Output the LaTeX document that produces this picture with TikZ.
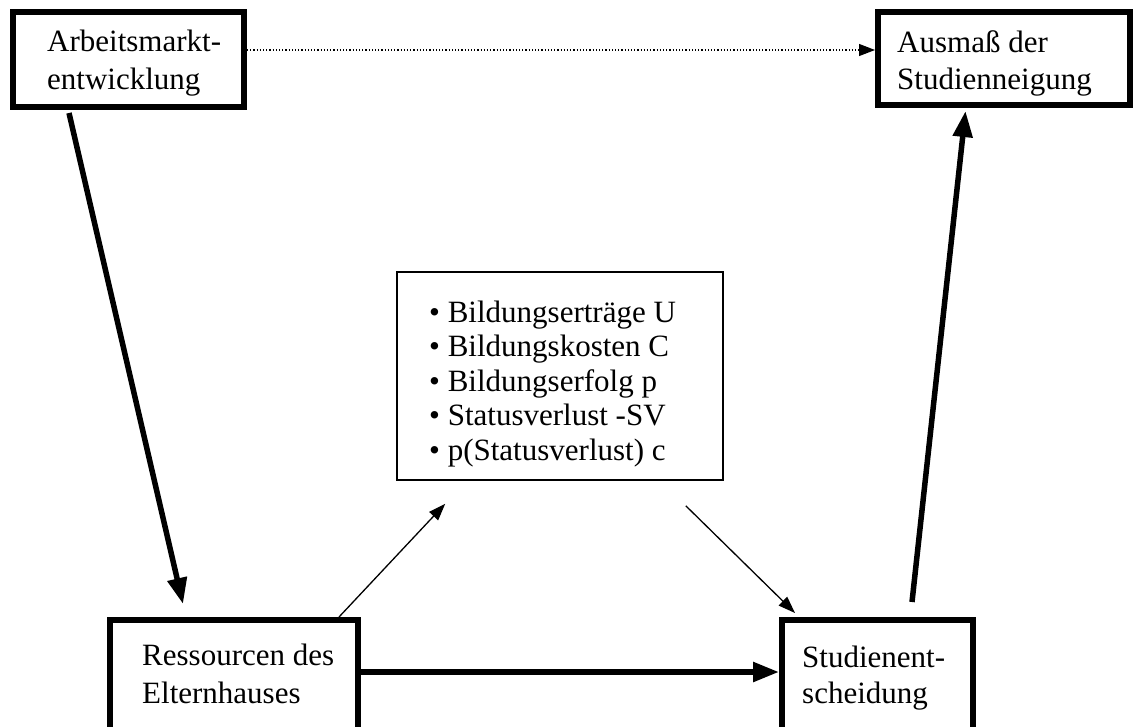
\documentclass[tikz,border=0pt]{standalone}
\usepackage{fontspec}
\setmainfont{Liberation Serif}
\usetikzlibrary{arrows.meta}
\begin{document}
\begin{tikzpicture}[x=1pt,y=-1pt,
  bigbox/.style={draw,line width=6pt,inner sep=0pt},
  listbox/.style={draw,line width=1.5pt,inner sep=0pt},
  lbl/.style={inner sep=0pt,align=left,font=\fontsize{31}{38}\selectfont},
  thickarr/.style={line width=5.5pt,-{Triangle[length=26pt,width=19pt]}},
  thinarr/.style={line width=1.3pt,-{Triangle[length=17pt,width=12pt]}},
  dotarr/.style={line width=1.2pt,dotted,-{Triangle[length=16pt,width=12pt]}}]
\useasboundingbox (0,0) rectangle (1142,727);
\fill[white] (0,0) rectangle (1142,727);
% boxes
\node[bigbox,minimum width=231pt,minimum height=95pt] (arb) at (128.5,59.5) {};
\node[bigbox,minimum width=252pt,minimum height=93pt] (aus) at (1004,58.5) {};
\node[bigbox,minimum width=248pt,minimum height=115pt] (res) at (234,677.5) {};
\node[bigbox,minimum width=191pt,minimum height=115pt] (stu) at (877.5,677.5) {};
\node[listbox,minimum width=326pt,minimum height=208pt] (lst) at (560,376) {};
% texts (anchor base = baseline of the last line)
\node[lbl,anchor=base west] (arbt) at (47,90) {Arbeitsmarkt-\\entwicklung};
\node[lbl,anchor=base west,font=\fontsize{31}{37}\selectfont] (aust) at (897,90) {Ausmaß der\\Studienneigung};
\node[lbl,anchor=base west] (rest) at (142,703) {Ressourcen des\\Elternhauses};
\node[lbl,anchor=base west,font=\fontsize{31}{36}\selectfont] (stut) at (802,703) {Studienent-\\scheidung};
\node[lbl,anchor=base west,font=\fontsize{31}{34.5}\selectfont] (lstt) at (429,460)
  {\textbullet\ Bildungserträge U\\\textbullet\ Bildungskosten C\\\textbullet\ Bildungserfolg p\\\textbullet\ Statusverlust -SV\\\textbullet\ p(Statusverlust) c};
% connectors
\draw[dotarr] ([yshift=9.5pt]arb.east) -- ([yshift=8.5pt]aus.west);
\draw[thickarr] ([xshift=59pt,yshift=-3pt]arb.south west) -- ([xshift=76pt,yshift=13pt]res.north west);
\draw[thickarr] ([yshift=5.5pt]res.east) -- ([yshift=5.5pt]stu.west);
\draw[thinarr] ([xshift=232pt]res.north west) -- ([xshift=49pt,yshift=-23pt]lst.south west);
\draw[thinarr] ([xshift=-38pt,yshift=-25pt]lst.south east) -- ([xshift=16pt,yshift=4pt]stu.north west);
\draw[thickarr] ([xshift=133pt,yshift=15pt]stu.north west) -- ([xshift=90.5pt,yshift=-3pt]aus.south west);
\end{tikzpicture}
\end{document}
